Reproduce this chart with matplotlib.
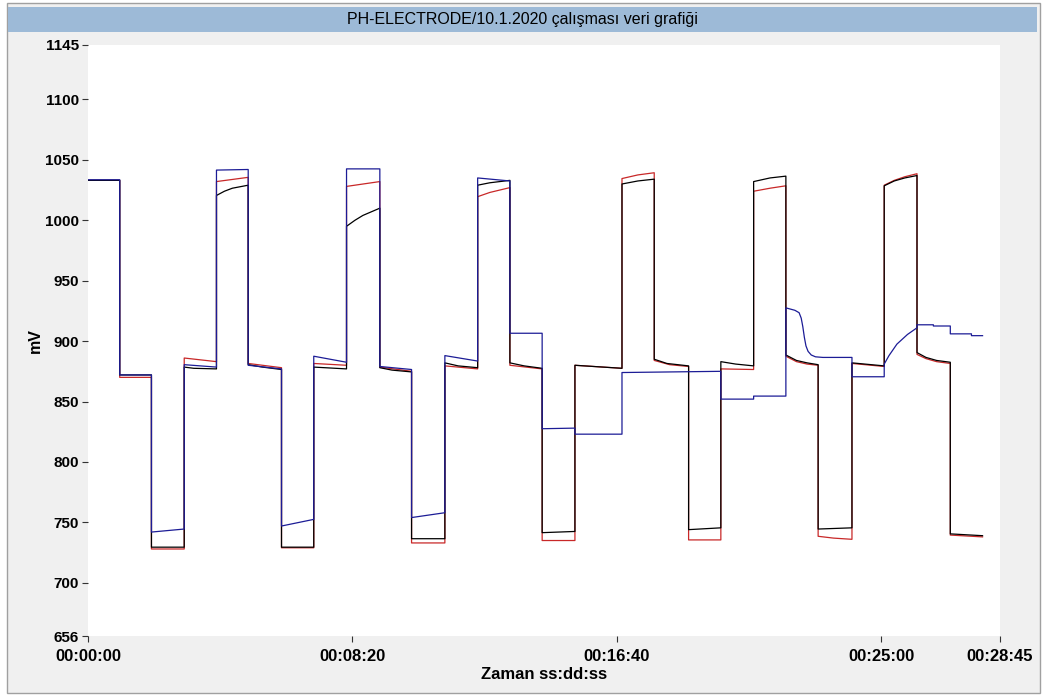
import matplotlib.pyplot as plt
from matplotlib.patches import Rectangle
from matplotlib.ticker import FuncFormatter

plt.rcParams["font.family"] = ["Liberation Sans", "DejaVu Sans"]

TITLE = "PH-ELECTRODE/10.1.2020 çalışması veri grafiği"

# zaman (s) ve mV, kayıttan okunan noktalar (aynı zaman iki kez = basamak)
black_t = [0, 60, 60, 120, 120, 182, 182, 200, 243, 243, 258, 273, 303,
           303, 330, 366, 366, 427, 427, 489, 489, 505, 520, 552, 552, 575,
           612, 612, 675, 675, 700, 737, 737, 760, 798, 798, 825, 859, 859,
           921, 921, 1010, 1010, 1040, 1071, 1071, 1095, 1136, 1136, 1197,
           1197, 1225, 1259, 1259, 1290, 1320, 1320, 1340, 1360, 1381, 1381,
           1445, 1445, 1506, 1506, 1525, 1545, 1568, 1568, 1585, 1605, 1631,
           1631, 1692]
black_v = [1033, 1033, 872, 872, 729.5, 729.5, 878.5, 877.5, 877, 1020.5,
           1024, 1026.5, 1029, 880.5, 878.5, 876.5, 729.5, 729.5, 878.5, 877,
           995, 1000, 1004, 1010, 878, 876, 874.5, 736.5, 736.5, 882, 879.5,
           878, 1029, 1031, 1033, 882, 879.5, 877.5, 741.5, 742.5, 880, 877.5,
           1030, 1032.5, 1034, 885, 881.5, 879.5, 744, 745.5, 883, 881, 879.5,
           1032, 1035, 1036.5, 888.5, 884, 882, 880.5, 744.5, 745.5, 882, 879.5,
           1028.5, 1032.5, 1035, 1037, 890.5, 886.5, 884, 882.5, 740.5, 739]

red_t = [0, 60, 60, 120, 120, 182, 182, 243, 243, 303, 303, 366, 366, 427,
         427, 489, 489, 552, 552, 612, 612, 675, 675, 737, 737, 760, 798, 798,
         859, 859, 921, 921, 1010, 1010, 1040, 1071, 1071, 1100, 1136, 1136,
         1197, 1197, 1259, 1259, 1290, 1320, 1320, 1340, 1360, 1381, 1381,
         1410, 1445, 1445, 1506, 1506, 1525, 1545, 1568, 1568, 1585, 1605,
         1631, 1631, 1692]
red_v = [1033, 1033, 870, 870, 728, 728, 886, 883, 1032, 1035.5, 881.5, 878,
         729, 729, 881.5, 880, 1028, 1032, 878.5, 875, 733, 733, 879.5, 877,
         1019.5, 1023, 1027, 880, 877, 735, 735, 880, 877.5, 1034.5, 1037.5,
         1039.3, 884, 880.5, 879, 735.5, 735.5, 877, 876.5, 1024, 1026.5,
         1028.5, 887.5, 883, 881, 880, 738.5, 737, 736, 881.5, 879, 1029, 1033,
         1036, 1038.5, 889, 885.5, 883, 881.5, 739.5, 738]

blue_t = [0, 60, 60, 120, 120, 182, 182, 243, 243, 303, 303, 366, 366, 427,
          427, 489, 489, 552, 552, 612, 612, 675, 675, 737, 737, 798, 798, 859,
          859, 921, 921, 1010, 1010, 1197, 1197, 1259, 1259, 1320, 1320, 1337,
          1345, 1349, 1352, 1355, 1358, 1362, 1368, 1376, 1390, 1445, 1445,
          1506, 1506, 1515, 1530, 1550, 1568, 1568, 1599, 1599, 1631, 1631,
          1671, 1671, 1692]
blue_v = [1033.5, 1033.5, 872, 872, 742, 744.5, 880.5, 878.5, 1041.5, 1042,
          880, 877, 747, 752.5, 887.5, 882.5, 1042.5, 1042.5, 879, 876.5, 754,
          758, 888, 883.5, 1035, 1032.5, 906.5, 906.5, 827.5, 828, 823, 823, 874,
          875, 852, 852, 854.5, 854.5, 927.5, 925.5, 923.5, 919, 912, 903, 896,
          891.5, 888.5, 887, 886.5, 886.5, 870.5, 870.5, 881, 888, 897.5, 905.5,
          911, 913.5, 913.5, 912.5, 912.5, 906, 906, 904.5, 904.5]

x_ticks = [0, 500, 1000, 1500, 1725]
y_ticks = [656, 700, 750, 800, 850, 900, 950, 1000, 1050, 1100, 1145]


def hms(sec, pos=None):
    sec = int(round(sec))
    return "%02d:%02d:%02d" % (sec // 3600, (sec % 3600) // 60, sec % 60)


fig = plt.figure(figsize=(10.44, 6.95), dpi=100, facecolor="white")

# gri panel ve başlık şeridi
fig.patches.append(Rectangle((7 / 1044, 2 / 695), 1033 / 1044, 690 / 695,
                             transform=fig.transFigure, facecolor="#f0f0f0",
                             edgecolor="#a0a0a0", linewidth=1.0, zorder=-2))
fig.patches.append(Rectangle((8 / 1044, 1 - 32 / 695), 1029 / 1044, 25 / 695,
                             transform=fig.transFigure, facecolor="#9dbad7",
                             edgecolor="none", zorder=-1))
fig.text(0.5, 1 - 19.5 / 695, TITLE, ha="center", va="center", fontsize=11.5)

ax = fig.add_axes([88 / 1044, 1 - 636 / 695, 912 / 1044, 591 / 695])
ax.set_facecolor("white")

ax.plot(red_t, red_v, color="#c82828", lw=0.9)
ax.plot(black_t, black_v, color="black", lw=0.9)
ax.plot(blue_t, blue_v, color="#1c1c96", lw=0.9)

ax.set_xlim(0, 1725)
ax.set_ylim(656, 1145)
ax.set_xticks(x_ticks)
ax.set_yticks(y_ticks)
ax.xaxis.set_major_formatter(FuncFormatter(hms))

for s in ax.spines.values():
    s.set_visible(False)

ax.tick_params(axis="both", direction="out", length=4.3, width=0.8,
               color="#333333")
ax.tick_params(axis="x", pad=5, labelsize=12)
ax.tick_params(axis="y", pad=2, labelsize=11)
for lab in ax.get_xticklabels() + ax.get_yticklabels():
    lab.set_fontweight("bold")

ax.set_xlabel("Zaman ss:dd:ss", fontsize=12, fontweight="bold")
ax.xaxis.set_label_coords(0.5, -0.052)
ax.set_ylabel("mV", fontsize=11.5, fontweight="bold")
ax.yaxis.set_label_coords(-0.05, 0.5)

fig.savefig("out.png", dpi=100, facecolor="white")
